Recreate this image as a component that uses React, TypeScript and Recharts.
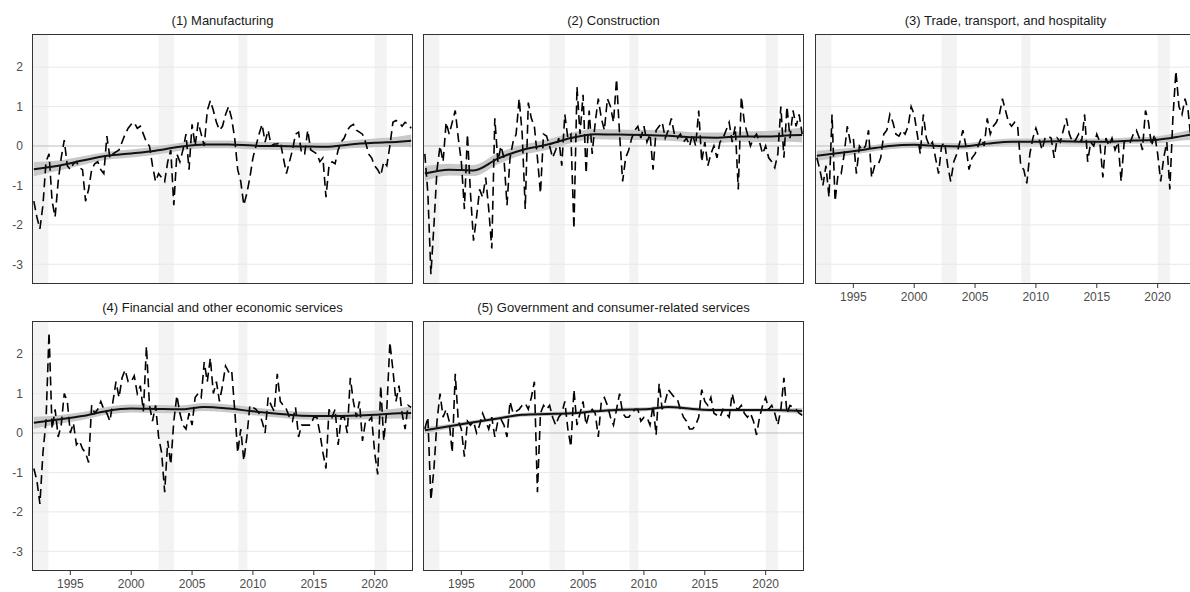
import React from "react";
import {
  ComposedChart,
  Line,
  Area,
  XAxis,
  YAxis,
  ReferenceArea,
  ReferenceLine,
} from "recharts";

// quarterly observations, first one is 1992 Q1
const START_YEAR = 1992;
const PER_YEAR = 4;

const manufacturing = [
  -1.4, -1.8, -2.1, -1.5, -0.4, -0.2, -1.4, -1.8, -0.9, -0.3, 0.15, -0.5,
  -0.6, -0.45, -0.4, -0.55, -0.6, -1.4, -1.1, -0.6, -0.45, -0.4, -0.6, -0.7,
  0.25, -0.3, -0.2, -0.15, -0.1, 0.1, 0.3, 0.45, 0.55, 0.6, 0.45, 0.5,
  0.3, 0.1, 0.0, -0.5, -0.9, -0.7, -0.8, -0.9, -0.4, -0.1, -1.5, -0.2,
  -0.4, -0.1, 0.3, -0.6, 0.55, 0.0, 0.6, 0.3, 0.0, 0.9, 1.15, 0.9,
  0.6, 0.4, 0.5, 0.8, 1.0, 0.7, 0.2, -0.6, -0.9, -1.5, -1.2, -0.8,
  -0.3, 0.0, 0.3, 0.55, 0.1, 0.4, 0.0, 0.05, 0.05, 0.1, -0.3, -0.7,
  -0.4, -0.1, 0.3, 0.35, -0.2, -0.2, 0.4, -0.1, -0.15, -0.2, -0.4, -0.3,
  -1.3, -0.5, -0.4, -0.45, -0.1, 0.1, 0.2, 0.4, 0.5, 0.55, 0.4, 0.35,
  0.3, 0.1, -0.2, -0.3, -0.5, -0.6, -0.75, -0.4, -0.5, 0.0, 0.6, 0.65,
  0.6, 0.5, 0.6, 0.55, 0.45,
];

const construction = [
  -0.2, -1.2, -3.25, -2.0, -0.6, 0.0, -0.4, 0.6, 0.3, 0.6, 0.9, 0.2,
  -0.4, -1.6, 0.3, -1.2, -2.4, -1.8, -1.1, -1.3, -0.8, -1.6, -2.6, 0.7,
  -0.4, 0.0, -0.3, -1.5, -0.3, 0.1, 0.3, 1.2, 0.3, -1.6, 1.1, 0.7,
  0.5, -0.3, -1.2, 0.3, 0.25, 0.0, -0.3, -0.1, 0.2, -0.5, 0.8, 0.2,
  0.3, -2.1, 1.5, 0.3, 1.3, -0.7, 0.9, -0.2, 0.6, 1.2, 0.7, 0.4,
  1.2, 1.0, 0.6, 1.7, 0.3, -0.9, -0.3, -0.1, 0.2, 0.4, 0.5, 0.2,
  0.5, 0.1, 0.3, -0.6, 0.4, 0.5, 0.6, 0.2, 0.4, 0.7, 0.3, 0.2,
  0.3, 0.1, 0.2, 0.0, 0.3, 0.0, 0.9, -0.4, 0.1, -0.5, -0.2, 0.0,
  -0.3, 0.1, 0.2, 0.4, 0.6, 0.1, 0.5, -1.1, 1.25, 0.6, 0.3, 0.0,
  0.2, 0.3, 0.1, -0.2, 0.0, -0.3, -0.4, -0.55, -0.2, 1.0, -0.3, 1.0,
  0.2, 0.9, 0.5, 0.8, 0.3,
];

const trade = [
  -0.3, -0.6, -1.0, -0.5, -1.3, 0.8, -1.4, -0.7, -0.7, -0.2, 0.5, 0.1,
  0.2, -0.7, 0.0, -0.1, 0.0, 0.4, -0.8, -0.5, -0.5, -0.3, 0.3, 0.4,
  0.8, 0.6, 0.3, 0.25, 0.4, 0.3, 0.5, 1.0, 0.8, 0.3, -0.2, 0.8,
  0.2, 0.0, 0.1, -0.3, -0.7, 0.0, 0.1, -0.5, -0.9, -0.4, -0.2, 0.1,
  0.4, 0.0, -0.6, -0.3, -0.2, 0.0, 0.2, 0.0, 0.7, 0.3, 0.5, 0.6,
  0.8, 1.2, 0.9, 0.6, 0.5, 0.6, 0.5, -0.5, -0.6, -0.95, -0.2, 0.2,
  0.45, 0.2, -0.1, 0.2, 0.25, 0.2, -0.3, 0.2, 0.1, 0.4, 0.7, 0.3,
  0.1, 0.15, 0.3, 0.1, 0.8, -0.4, 0.1, 0.0, 0.3, 0.1, -0.8, 0.2,
  0.0, 0.2, -0.1, 0.1, -0.9, 0.1, 0.15, 0.1, 0.3, 0.4, 0.2, -0.1,
  0.9, 0.6, 0.0, 0.3, -0.2, -0.9, -0.3, 0.1, -1.1, 0.7, 1.9, 1.0,
  0.8, 1.2, 0.9, 0.1, 0.3,
];

const financial = [
  -0.9, -1.2, -1.8, -0.5, 0.3, 2.55, 0.1, 0.6, -0.1, 0.2, 1.0, 0.8,
  0.0, 0.25, -0.3, -0.2, -0.4, -0.5, -0.75, 0.7, 0.5, 0.6, 0.8, 0.6,
  0.5, 0.3, 0.8, 1.3, 0.9, 1.4, 1.6, 1.3, 1.3, 1.45, 1.0, 1.2,
  0.55, 2.2, 0.7, 0.3, 0.7, -0.1, -0.5, -1.5, -0.2, -0.8, 0.3, 0.95,
  0.5, 0.2, 0.1, 0.5, 0.2, 0.9, 1.0, 0.9, 1.8, 1.3, 1.9, 1.0,
  1.3, 0.8, 1.2, 1.7, 1.55, 1.6, 0.6, -0.5, 0.1, -0.7, -0.1, 0.7,
  0.65, 0.6, 0.5, 0.3, 0.0, 0.9, 0.7, 0.55, 1.5, 0.8, 0.7, 0.6,
  0.4, 0.3, 0.65, -0.1, 0.2, 0.2, 0.2, 0.2, 0.4, 0.4, 0.0, -0.5,
  -0.9, 0.6, 0.4, 0.6, -0.3, 0.4, 0.4, 0.0, 1.4, 0.8, 0.4, 0.8,
  -0.2, 0.3, 0.3, 0.4, -0.5, -1.05, 1.2, -0.2, 0.6, 2.3, 1.6, 0.8,
  1.2, 0.5, 0.1, 0.7, 0.65,
];

const government = [
  0.1, 0.4, -1.7, -0.9, 0.3, 1.0, 0.4, 0.6, 0.3, -0.5, 1.5, 0.3,
  0.1, -0.6, 0.3, 0.2, 0.3, 0.0, 0.2, 0.5, 0.3, 0.1, 0.4, -0.1,
  0.3, 0.35, 0.2, -0.1, 0.8, 0.5, 0.55, 0.6, 0.7, 0.75, 0.6, 0.9,
  1.3, -1.5, 0.5, 0.7, 0.6, 0.7, 0.4, 0.2, 0.4, 0.5, 0.8, 0.1,
  -0.35, 1.1, 0.2, 0.5, 0.8, 0.2, 0.5, 0.6, 0.5, -0.1, 0.8, 0.9,
  0.7, 0.4, 0.2, 0.6, 1.0, 0.5, 0.4, 0.4, 0.5, 0.6, 0.6, 0.3,
  0.4, 0.4, 0.2, 0.7, -0.05, 1.25, 0.6, 0.8, 1.1, 1.0, 0.9, 0.85,
  0.6, 0.4, 0.3, 0.1, 0.1, 0.2, 0.4, 1.1, 0.8, 0.7, 0.9, 0.5,
  0.45, 0.4, 0.6, 0.5, 0.4, 1.0, 0.65, 0.6, 0.7, 0.5, 0.4, 0.5,
  0.3, -0.05, 0.4, 0.7, 0.9, 0.6, 0.7, 0.5, 0.2, 0.6, 1.4, 0.5,
  0.7, 0.65, 0.6, 0.5, 0.45,
];

// smoothed trend (loess-like) and half width of its band, at these years
const smoothYears = [
  1992, 1994, 1996, 1998, 2000, 2002, 2004, 2006, 2008, 2010, 2012, 2014,
  2016, 2018, 2020, 2022, 2023,
];
const manufacturingFit = [-0.59, -0.5, -0.37, -0.25, -0.19, -0.12, -0.02, 0.04, 0.04, 0.01, 0.0, -0.01, -0.02, 0.04, 0.08, 0.11, 0.13];
const manufacturingSe = [0.18, 0.13, 0.11, 0.1, 0.1, 0.1, 0.1, 0.1, 0.1, 0.1, 0.1, 0.1, 0.1, 0.1, 0.11, 0.13, 0.16];
const constructionFit = [-0.7, -0.6, -0.62, -0.32, -0.1, 0.03, 0.2, 0.3, 0.29, 0.28, 0.26, 0.22, 0.21, 0.24, 0.24, 0.27, 0.28];
const constructionSe = [0.19, 0.15, 0.14, 0.14, 0.13, 0.13, 0.13, 0.13, 0.13, 0.13, 0.13, 0.13, 0.13, 0.13, 0.14, 0.16, 0.19];
const tradeFit = [-0.25, -0.17, -0.09, 0.0, 0.03, 0.0, -0.01, 0.06, 0.11, 0.11, 0.12, 0.11, 0.11, 0.14, 0.16, 0.25, 0.3];
const tradeSe = [0.13, 0.1, 0.08, 0.08, 0.08, 0.08, 0.08, 0.08, 0.08, 0.08, 0.08, 0.08, 0.08, 0.08, 0.09, 0.11, 0.14];
const financialFit = [0.26, 0.34, 0.43, 0.56, 0.62, 0.61, 0.6, 0.66, 0.62, 0.55, 0.49, 0.44, 0.43, 0.44, 0.46, 0.5, 0.51];
const financialSe = [0.15, 0.11, 0.1, 0.1, 0.1, 0.1, 0.1, 0.1, 0.1, 0.1, 0.1, 0.1, 0.1, 0.1, 0.11, 0.13, 0.16];
const governmentFit = [0.07, 0.17, 0.27, 0.37, 0.46, 0.48, 0.5, 0.55, 0.59, 0.6, 0.66, 0.61, 0.58, 0.58, 0.58, 0.57, 0.56];
const governmentSe = [0.08, 0.06, 0.05, 0.05, 0.05, 0.05, 0.05, 0.05, 0.05, 0.05, 0.05, 0.05, 0.05, 0.05, 0.05, 0.06, 0.08];

// shaded recession periods [start, end]
const recessions = [
  [1991.5, 1993.2],
  [2002.25, 2003.5],
  [2008.8, 2009.55],
  [2020.0, 2021.0],
];

const xTicks = [1995, 2000, 2005, 2010, 2015, 2020];
const yTicks = [-3, -2, -1, 0, 1, 2];
const X_DOMAIN = [1991.85, 2023.15];
const Y_DOMAIN = [-3.5, 2.84];

const quarters = manufacturing.map((_, i) => START_YEAR + i / PER_YEAR);

const buildRows = (raw: number[], fit: number[], se: number[]) =>
  quarters.map((year, i) => {
    const k = smoothYears.indexOf(year);
    return {
      year,
      raw: raw[i],
      fit: k >= 0 ? fit[k] : null,
      band: k >= 0 ? [fit[k] - se[k], fit[k] + se[k]] : null,
    };
  });

const PLOT_W = 381;
const PLOT_H = 250;
const Y_AXIS_W = 32;
const X_AXIS_H = 24;

const panels = [
  { title: "(1) Manufacturing", rows: buildRows(manufacturing, manufacturingFit, manufacturingSe), left: 32, top: 34, showY: true, showX: false },
  { title: "(2) Construction", rows: buildRows(construction, constructionFit, constructionSe), left: 423, top: 34, showY: false, showX: false },
  { title: "(3) Trade, transport, and hospitality", rows: buildRows(trade, tradeFit, tradeSe), left: 815, top: 34, showY: false, showX: true },
  { title: "(4) Financial and other economic services", rows: buildRows(financial, financialFit, financialSe), left: 32, top: 321, showY: true, showX: true },
  { title: "(5) Government and consumer-related services", rows: buildRows(government, governmentFit, governmentSe), left: 423, top: 321, showY: false, showX: true },
];

const tickStyle = { fontSize: 12, fill: "#4d4d4d" };

const Panel = ({ title, rows, left, top, showY, showX }: any) => {
  const w = PLOT_W + (showY ? Y_AXIS_W : 0);
  const h = PLOT_H + (showX ? X_AXIS_H : 0);
  return (
    <>
      <div
        style={{
          position: "absolute",
          left,
          top: top - 21,
          width: PLOT_W,
          height: 16,
          lineHeight: "16px",
          textAlign: "center",
          fontSize: 13,
          color: "#1a1a1a",
        }}
      >
        {title}
      </div>
      <div style={{ position: "absolute", left: left - (showY ? Y_AXIS_W : 0), top }}>
        <ComposedChart width={w} height={h} data={rows} margin={{ top: 0, right: 0, bottom: 0, left: 0 }}>
          <XAxis
            dataKey="year"
            type="number"
            domain={X_DOMAIN}
            ticks={xTicks}
            allowDataOverflow
            hide={!showX}
            height={X_AXIS_H}
            axisLine={false}
            tickLine={{ stroke: "#333333" }}
            tickSize={4}
            tickMargin={4}
            tick={tickStyle}
          />
          <YAxis
            type="number"
            domain={Y_DOMAIN}
            ticks={yTicks}
            allowDataOverflow
            hide={!showY}
            width={Y_AXIS_W}
            axisLine={false}
            tickLine={false}
            tickSize={0}
            tickMargin={9}
            tick={tickStyle}
          />
          {recessions.map(([a, b], i) => (
            <ReferenceArea key={i} x1={a} x2={b} ifOverflow="hidden" fill="#f3f3f3" fillOpacity={1} stroke="none" />
          ))}
          {yTicks.map((t) => (
            <ReferenceLine key={t} y={t} stroke={t === 0 ? "#bdbdbd" : "#e8e8e8"} strokeWidth={1} />
          ))}
          <Area
            dataKey="band"
            type="monotone"
            connectNulls
            stroke="none"
            fill="#c9c9c9"
            fillOpacity={1}
            isAnimationActive={false}
          />
          <Line
            dataKey="raw"
            type="linear"
            stroke="#000000"
            strokeWidth={1.6}
            strokeDasharray="9 5"
            dot={false}
            isAnimationActive={false}
          />
          <Line
            dataKey="fit"
            type="monotone"
            connectNulls
            stroke="#111111"
            strokeWidth={2}
            dot={false}
            isAnimationActive={false}
          />
        </ComposedChart>
      </div>
      <div
        style={{
          position: "absolute",
          left,
          top,
          width: PLOT_W,
          height: PLOT_H,
          boxSizing: "border-box",
          border: "1px solid #333333",
          pointerEvents: "none",
        }}
      />
    </>
  );
};

export default function App() {
  return (
    <div
      style={{
        position: "absolute",
        left: 0,
        top: 0,
        width: 1190,
        height: 592,
        overflow: "hidden",
        background: "#ffffff",
        fontFamily: "'Liberation Sans', Arial, sans-serif",
      }}
    >
      {panels.map((p) => (
        <Panel key={p.title} {...p} />
      ))}
    </div>
  );
}
